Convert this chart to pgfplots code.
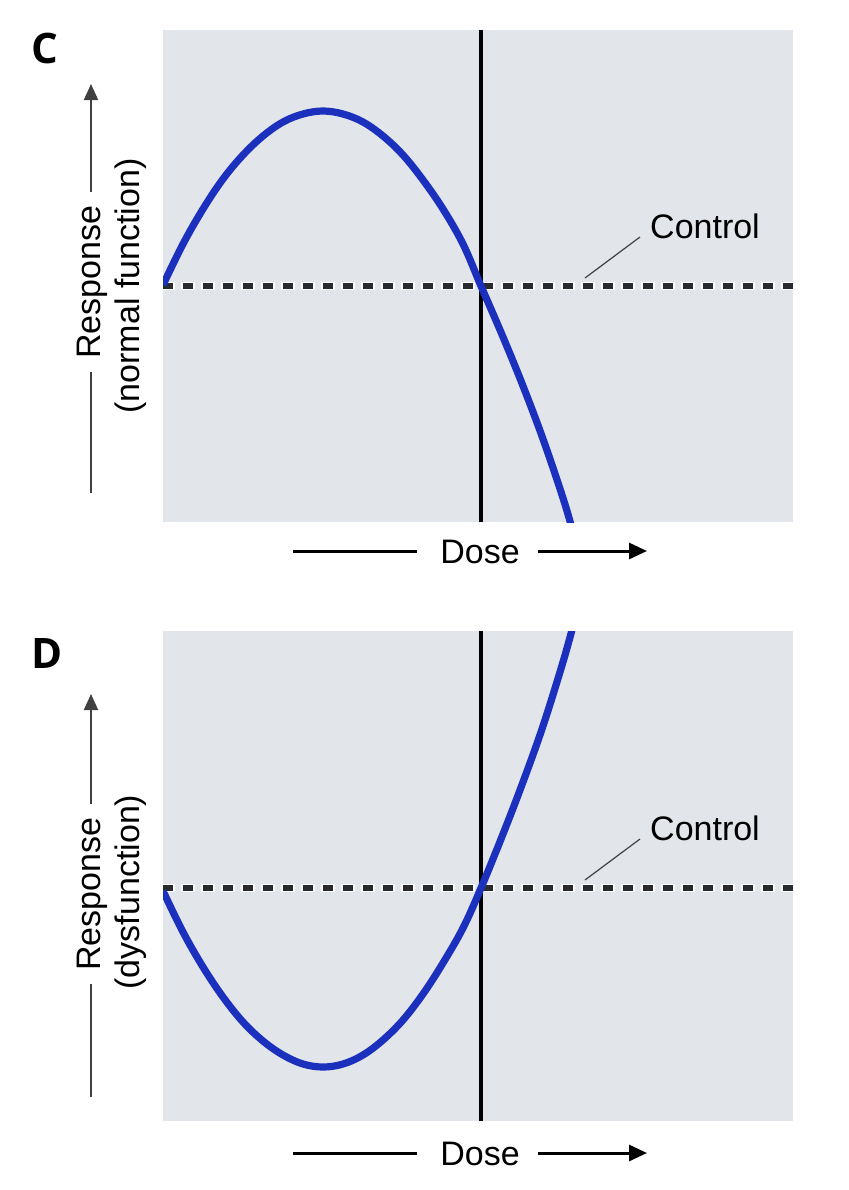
\documentclass[border=0pt]{standalone}
\usepackage{pgfplots}
\pgfplotsset{compat=1.18}
\usepackage{fontspec}
\setmainfont{Liberation Sans}
\newfontfamily\panelfont{Open Sans}
\usetikzlibrary{arrows.meta}
\definecolor{bgGrey}{RGB}{226,229,233}
\definecolor{curveBlue}{RGB}{28,48,190}
\definecolor{dashGrey}{RGB}{40,42,46}
\pgfplotsset{panel/.style={scale only axis, width=315pt, xmin=0, xmax=630,
  axis line style={draw=none}, xtick=\empty, ytick=\empty,
  axis background/.style={fill=bgGrey}, anchor=north west, clip=true}}
\pgfplotstableread{
x   c     d
0   1     -3
20  42    -44
40  77    -79
60  107   -109
80  131   -134
100 150   -153
120 164   -167
140 172   -176
160 175   -179
180 172   -176
200 164   -167
220 150   -152
240 131   -132
260 106   -106
280 77    -75
300 42    -40
318 0     0
340 -51   54
360 -100  106
380 -153  162
400 -212  226
410 -246  262
}\curves
\begin{document}
\begin{tikzpicture}
\path[use as bounding box, fill=white] (0pt,0pt) rectangle (424pt,-595pt);
% Panel C
\begin{axis}[panel, height=246pt, ymin=-236, ymax=256, at={(81.5pt,-15pt)}]
\addplot[black, line width=1.7pt] coordinates {(318,-236) (318,256)};
\addplot[white, line width=3.8pt, dash pattern=on 7pt off 3pt, dash phase=1pt] coordinates {(0,0) (630,0)};
\addplot[dashGrey, line width=2.8pt, dash pattern=on 5pt off 5pt] coordinates {(0,0) (630,0)};
\addplot[curveBlue, line width=3.6pt, smooth, tension=0.6] table[x=x, y=c] {\curves};
\end{axis}
% Panel D
\begin{axis}[panel, height=245pt, ymin=-233, ymax=257, at={(81.5pt,-315.5pt)}]
\addplot[black, line width=1.7pt] coordinates {(318,-233) (318,257)};
\addplot[white, line width=3.8pt, dash pattern=on 7pt off 3pt, dash phase=1pt] coordinates {(0,0) (630,0)};
\addplot[dashGrey, line width=2.8pt, dash pattern=on 5pt off 5pt] coordinates {(0,0) (630,0)};
\addplot[curveBlue, line width=3.6pt, smooth, tension=0.6] table[x=x, y=d] {\curves};
\end{axis}
\begin{scope}[x=0.5pt,y=-0.5pt, lab/.style={font=\fontsize{17}{20}\selectfont, inner sep=0pt}]
% panel letters
\node[font=\panelfont\bfseries\fontsize{21}{21}\selectfont] at (45,48) {C};
\node[font=\panelfont\bfseries\fontsize{21}{21}\selectfont] at (47,653) {D};
% Panel C annotations
\node[lab] at (705,226) {Control};
\draw[black!75, line width=0.6pt] (585,278) -- (640,237);
\node[lab] at (480,552) {Dose};
\draw[black, line width=1.5pt] (293,551) -- (417,551);
\draw[black, line width=1.5pt, -{Triangle[length=9pt,width=8pt]}] (538,551) -- (647,551);
\node[lab, rotate=90] at (92,282) {Response};
\node[lab, rotate=90] at (131,286) {(normal function)};
\draw[black!75, line width=1pt] (91,493) -- (91,372);
\draw[black!75, line width=1pt, -{Triangle[length=8pt,width=7pt]}] (91,192) -- (91,84);
% Panel D annotations
\node[lab] at (705,828) {Control};
\draw[black!75, line width=0.6pt] (585,880) -- (640,839);
\node[lab] at (480,1154) {Dose};
\draw[black, line width=1.5pt] (293,1153) -- (417,1153);
\draw[black, line width=1.5pt, -{Triangle[length=9pt,width=8pt]}] (538,1153) -- (647,1153);
\node[lab, rotate=90] at (92,894) {Response};
\node[lab, rotate=90] at (131,892) {(dysfunction)};
\draw[black!75, line width=1pt] (91,1097) -- (91,984);
\draw[black!75, line width=1pt, -{Triangle[length=8pt,width=7pt]}] (91,804) -- (91,694);
\end{scope}
\end{tikzpicture}
\end{document}
